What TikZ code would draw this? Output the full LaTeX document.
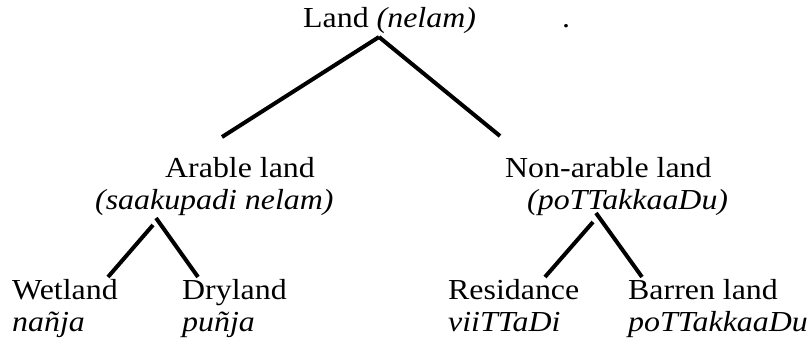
\documentclass[tikz,border=0pt]{standalone}
\usepackage{fontspec}
\setmainfont{Liberation Serif}[FakeStretch=1.1]
\usetikzlibrary{positioning}

\begin{document}
\begin{tikzpicture}[x=1pt,y=1pt,thin]
\tikzstyle{word}=[anchor=base west,inner sep=0pt,font=\fontsize{29}{35}\selectfont]
\tikzstyle{branch}=[draw=black,line width=4pt]
\useasboundingbox (0,0) rectangle (809,347);

\node[word]         (L)  at (303,319) {Land \textit{(nelam)}};
\node[word]         (Ld) at (562,319) {.};
\node[word]         (A)  at (165,169) {Arable land};
\node[word]         (At) at (95,137)  {\textit{(saakupadi nelam)}};
\node[word]         (N)  at (505,169) {Non-arable land};
\node[word]         (Nt) at (527,137) {\textit{(poTTakkaaDu)}};
\node[word]         (W)  at (12,47)   {Wetland};
\node[word]         (Wt) at (12,15)   {\textit{nañja}};
\node[word]         (D)  at (182,47)  {Dryland};
\node[word]         (Dt) at (182,15)  {\textit{puñja}};
\node[word]         (R)  at (448,47)  {Residance};
\node[word]         (Rt) at (448,15)  {\textit{viiTTaDi}};
\node[word]         (B)  at (628,47)  {Barren land};
\node[word]         (Bt) at (628,15)  {\textit{poTTakkaaDu}};

\coordinate (Lf) at (379,310);
\coordinate (Ae) at (222,210);
\coordinate (Ne) at (500,211);
\coordinate (Afl) at (153,122);
\coordinate (Afr) at (156,129);
\coordinate (We) at (108,70);
\coordinate (De) at (198,70);
\coordinate (Nfl) at (593,125);
\coordinate (Nfr) at (596,134);
\coordinate (Re) at (545,70);
\coordinate (Be) at (642,70);

\path[branch]
(Lf) edge (Ae)
(Lf) edge (Ne)
(Afl) edge (We)
(Afr) edge (De)
(Nfl) edge (Re)
(Nfr) edge (Be)
;
\end{tikzpicture}
\end{document}
